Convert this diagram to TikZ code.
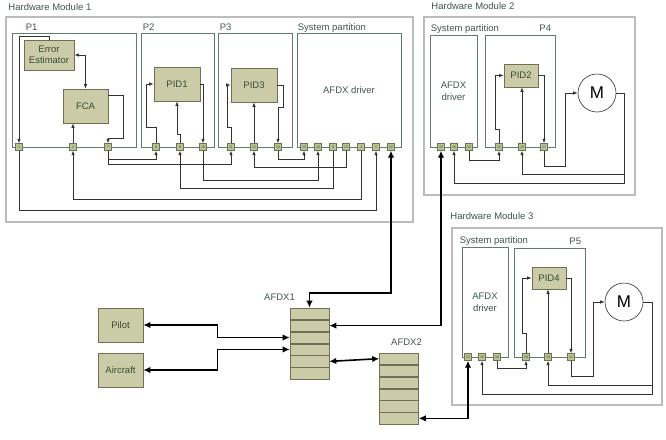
\documentclass[tikz,border=0pt]{standalone}
\usepackage{fontspec}
\setmainfont{Liberation Sans}
\usetikzlibrary{positioning,arrows.meta}
\definecolor{hwline}{RGB}{188,188,188}
\definecolor{partline}{RGB}{98,122,112}
\definecolor{blkfill}{RGB}{203,203,168}
\definecolor{blkline}{RGB}{112,112,86}
\definecolor{blktext}{RGB}{52,78,52}
\definecolor{lbltext}{RGB}{62,86,76}
\definecolor{portfill}{RGB}{184,196,146}
\definecolor{wire}{RGB}{50,50,50}
\begin{document}
\begin{tikzpicture}[x=1pt, y=-1pt,
    hw/.style = {draw=hwline, line width=1.5pt, inner sep=0pt},
    part/.style = {draw=partline, line width=0.6pt, inner sep=0pt, text=lbltext, align=center,
                   font=\fontsize{9.5}{12}\selectfont},
    blk/.style = {draw=blkline, fill=blkfill, line width=0.6pt, inner sep=0pt, text=blktext,
                  align=center, font=\fontsize{9.5}{11.5}\selectfont},
    lbl/.style = {text=lbltext, inner sep=0pt, font=\fontsize{9.5}{11}\selectfont},
    port/.style = {draw=blkline, fill=portfill, line width=0.4pt, minimum size=7pt, inner sep=0pt,
                   text=blktext, font=\fontsize{3.5}{4}\selectfont},
    motor/.style = {draw=wire, fill=white, circle, line width=0.6pt, minimum size=38pt, inner sep=0pt,
                    font=\fontsize{17}{17}\selectfont},
    row/.style = {draw=blkline, fill=blkfill, line width=0.6pt, inner sep=0pt,
                  minimum width=39pt, minimum height=11.33pt},
    link/.style = {draw=wire, line width=0.7pt},
    bus/.style = {draw=black, line width=1.6pt, >={Latex[length=7pt,width=6.5pt]}},
    >={Latex[length=4.5pt,width=3.5pt]}]
\useasboundingbox (0,0) rectangle (666,439);

% hardware modules
\node[hw, minimum width=407pt, minimum height=205pt] (hm1) at (209.5,119.5) {};
\node[hw, minimum width=211pt, minimum height=178pt] (hm2) at (529.5,106) {};
\node[hw, minimum width=210pt, minimum height=177pt] (hm3) at (557,316.5) {};
\node[lbl, anchor=base west] at ([xshift=3pt, yshift=6pt]hm1.north west) {Hardware Module 1};
\node[lbl, anchor=base west] at ([xshift=8pt, yshift=7pt]hm2.north west) {Hardware Module 2};
\node[lbl, anchor=base west] at ([xshift=-1pt, yshift=8pt]hm3.north west) {Hardware Module 3};

% partitions
\node[part, minimum width=124pt, minimum height=114pt] (P1) at (74,90) {};
\node[part, minimum width=73pt, minimum height=114pt] (P2) at (177.5,90) {};
\node[part, minimum width=74pt, minimum height=114pt] (P3) at (255,90) {};
\node[part, minimum width=104pt, minimum height=114pt] (sp1) at (349,90) {AFDX driver};
\node[part, minimum width=47pt, minimum height=112pt] (sp2) at (453.5,91) {AFDX\\driver};
\node[part, minimum width=70pt, minimum height=112pt] (P4) at (520,91) {};
\node[part, minimum width=46pt, minimum height=110pt] (sp3) at (485,302) {AFDX\\driver};
\node[part, minimum width=71pt, minimum height=109pt] (P5) at (549.5,302.5) {};
\node[lbl, anchor=base west] at ([xshift=14pt, yshift=2.5pt]P1.north west) {P1};
\node[lbl, anchor=base west] at ([xshift=2pt, yshift=2.5pt]P2.north west) {P2};
\node[lbl, anchor=base west] at ([xshift=2pt, yshift=2.5pt]P3.north west) {P3};
\node[lbl, anchor=base west] at ([xshift=1pt, yshift=2.5pt]sp1.north west) {System partition};
\node[lbl, anchor=base west] at ([xshift=1pt, yshift=3pt]sp2.north west) {System partition};
\node[lbl, anchor=base east] at ([xshift=-4pt, yshift=3pt]P4.north east) {P4};
\node[lbl, anchor=base west] at ([xshift=-2pt, yshift=3pt]sp3.north west) {System partition};
\node[lbl, anchor=base east] at ([xshift=-4pt, yshift=3pt]P5.north east) {P5};

% function blocks
\node[blk, minimum width=50pt, minimum height=30pt] (ee) at (49,55) {Error\\Estimator};
\node[blk, minimum width=45pt, minimum height=34pt] (fca) at (85.5,106) {FCA};
\node[blk, minimum width=46pt, minimum height=34pt] (pid1) at (177,84) {PID1};
\node[blk, minimum width=46pt, minimum height=34pt] (pid3) at (254,85) {PID3};
\node[blk, minimum width=34pt, minimum height=23pt] (pid2) at (521,75.5) {PID2};
\node[blk, minimum width=34pt, minimum height=22pt] (pid4) at (549,278) {PID4};
\node[motor] (m2) at (597,93) {M};
\node[motor] (m3) at (624,302) {M};

% ports
\node[port] (p1a) at (19,147) {1};
\node[port] (p1b) at (73,147) {4};
\node[port] (p1c) at (108,147) {7};
\node[port] (p2a) at (156,147) {8};
\node[port] (p2b) at (180,147) {9};
\node[port] (p2c) at (203,147) {10};
\node[port] (p3a) at (231,147) {11};
\node[port] (p3b) at (254,147) {12};
\node[port] (p3c) at (278,147) {13};
\node[port] (s1a) at (304,147) {13};
\node[port] (s1b) at (318,147) {10};
\node[port] (s1c) at (333,147) {9};
\node[port] (s1d) at (346,147) {12};
\node[port] (s1e) at (361,147) {4};
\node[port] (s1f) at (376,147) {1};
\node[port] (s1g) at (391,147) {22};
\node[port] (s2a) at (441,147) {20};
\node[port] (s2b) at (454,147) {16};
\node[port] (s2c) at (469,147) {15};
\node[port] (p4a) at (499,147) {15};
\node[port] (p4b) at (522,147) {16};
\node[port] (p4c) at (544,147) {17};
\node[port] (s3a) at (468,357) {23};
\node[port] (s3b) at (482,357) {19};
\node[port] (s3c) at (497,357) {18};
\node[port] (p5a) at (526,357) {18};
\node[port] (p5b) at (548,357) {19};
\node[port] (p5c) at (571,357) {21};

% switches and end systems
\node[blk, minimum width=45pt, minimum height=34pt] (pilot) at (120.5,325) {Pilot};
\node[blk, minimum width=45pt, minimum height=34pt] (aircraft) at (120.5,370) {Aircraft};
\node[row] (x1) at (309.5,313.67) {};
\node[row, below=0pt of x1] (x2) {};
\node[row, below=0pt of x2] (x3) {};
\node[row, below=0pt of x3] (x4) {};
\node[row, below=0pt of x4] (x5) {};
\node[row, below=0pt of x5] (x6) {};
\node[row] (y1) at (399,358.67) {};
\node[row, below=0pt of y1] (y2) {};
\node[row, below=0pt of y2] (y3) {};
\node[row, below=0pt of y3] (y4) {};
\node[row, below=0pt of y4] (y5) {};
\node[row, below=0pt of y5] (y6) {};
\node[lbl, anchor=base east] at (295,300) {AFDX1};
\node[lbl, anchor=base east] at (422,345) {AFDX2};

% module 1 wiring
\draw[link,<->] (ee.east) -| (fca.north);
\draw[link,->] (ee.north) -- ++(0,-3) -| (p1a.north);
\draw[link,->] (p1b.north) -- (p1b.north |- fca.south);
\draw[link,->] ([yshift=11pt]fca.east) -- ++(15,0) -- ++(0,43) -| (p1c.north);
\draw[link,->] (p1c.south) -- ++(0,8.5) -| (p2a.south);
\draw[link,->] (p1c.south) -- ++(0,13.5) -| (p3a.south);
\draw[link,->] (p2a.north) -- ++(0,-15.5) -- ++(-10,0) |- (pid1.west);
\draw[link,->] (s1c.south) -- ++(0,37.5) -| (p2b.south);
\draw[link,->] (p2b.north) -- ++(0,-8.5) -| (pid1.south);
\draw[link,->] (pid1.east) -| (p2c.north);
\draw[link,->] (p2c.south) -- ++(0,29.5) -| (s1b.south);
\draw[link,->] (p3a.north) -- ++(0,-15.5) -- ++(-4,0) |- (pid3.west);
\draw[link,->] (s1d.south) -- ++(0,16.5) -| (p3b.south);
\draw[link,->] (p3b.north) -- (pid3.south);
\draw[link,->] (pid3.east) -- ++(6,0) -- ++(0,22) -| (p3c.north);
\draw[link,->] (p3c.south) -- ++(0,8.5) -| (s1a.south);
\draw[link,->] (s1e.south) -- ++(0,48.5) -| (p1b.south);
\draw[link,->] (p1a.south) -- ++(0,59.5) -| (s1f.south);

% module 2 wiring
\draw[link,->] (s2c.south) -- ++(0,9.5) -| (p4a.south);
\draw[link,->] (p4a.north) -- ++(0,-13.5) -- ++(-4,0) |- (pid2.west);
\draw[link,->] (p4b.north) -- (p4b.north |- pid2.south);
\draw[link,->] (pid2.east) -| (p4c.north);
\draw[link,->] (p4c.south) -- ++(0,15.5) -- ++(21,0) |- (m2.west);
\draw[link,->] (m2.east) -- ++(8,0) -- ++(0,81) -| (p4b.south);
\draw[link,->] (m2.east) -- ++(8,0) -- ++(0,90) -| (s2b.south);

% module 3 wiring
\draw[link,->] (s3c.south) -- ++(0,7.5) -| (p5a.south);
\draw[link,->] (p5a.north) -- ++(0,-19.5) -- ++(-4,0) |- (pid4.west);
\draw[link,->] (p5b.north) -- (p5b.north |- pid4.south);
\draw[link,->] (pid4.east) -| (p5c.north);
\draw[link,->] (p5c.south) -- ++(0,15.5) -- ++(22,0) |- (m3.west);
\draw[link,->] (m3.east) -- ++(9,0) -- ++(0,83) -| (p5b.south);
\draw[link,->] (m3.east) -- ++(9,0) -- ++(0,92) -| (s3b.south);

% AFDX network
\draw[bus,<->] (s1g.south) -- ++(0,142.5) -| (x1.north);
\draw[bus,<->] (s2a.south) |- (x2.east);
\draw[bus,<->] (s3a.south) |- (y6.east);
\draw[bus,<->] (pilot.east) -- ++(74,0) |- (x3.west);
\draw[bus,<->] (aircraft.east) -- ++(74,0) |- (x4.west);
\draw[bus,<->] (x5.east) -- (y1.west);
\end{tikzpicture}
\end{document}
